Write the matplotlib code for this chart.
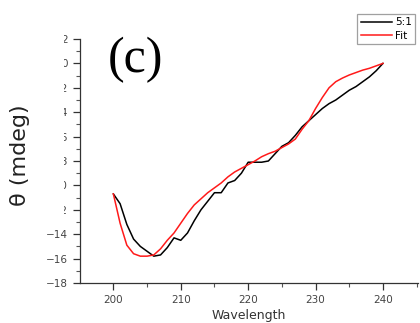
import numpy as np
import matplotlib
matplotlib.use("Agg")
import matplotlib.pyplot as plt
from matplotlib.patches import Rectangle
from matplotlib.ticker import MultipleLocator

wavelength = list(range(200, 241))
ratio_5_1 = [-10.7, -11.5, -13.2, -14.4, -15.0, -15.4, -15.8, -15.7, -15.1, -14.3,
             -14.5, -13.9, -12.9, -12.0, -11.3, -10.6, -10.6, -9.8, -9.6, -9.0,
             -8.1, -8.1, -8.1, -8.0, -7.4, -6.8, -6.5, -5.9, -5.2, -4.7,
             -4.2, -3.7, -3.3, -3.0, -2.6, -2.2, -1.9, -1.5, -1.1, -0.6, 0.0]
fit = [-10.7, -13.1, -14.9, -15.6, -15.8, -15.8, -15.7, -15.2, -14.5, -13.9,
       -13.1, -12.3, -11.6, -11.1, -10.6, -10.2, -9.8, -9.3, -8.9, -8.6,
       -8.3, -8.0, -7.65, -7.4, -7.2, -6.9, -6.6, -6.2, -5.4, -4.7,
       -3.7, -2.8, -2.0, -1.5, -1.2, -0.95, -0.75, -0.55, -0.4, -0.2, 0.0]
yticks = list(range(-18, 3, 2))
xticks = [200, 210, 220, 230, 240]

fig = plt.figure(figsize=(4.2, 3.23), dpi=100)
ax = fig.add_axes([80/420, 1-283/323, (418-80)/420, (283-39)/323])
ax.plot(wavelength, ratio_5_1, color='black', lw=1.1, label='5:1')
ax.plot(wavelength, fit, color='#ff1a1a', lw=1.1, label='Fit')
ax.set_xlim(195.05, 245.2)
ax.set_ylim(-18, 2)
ax.set_xticks(xticks)
ax.set_yticks(yticks)
ax.set_yticklabels([f"\u2212{abs(v)}" if v < 0 else str(v) for v in yticks])
ax.xaxis.set_minor_locator(MultipleLocator(5))
ax.yaxis.set_minor_locator(MultipleLocator(1))
for s in ['top', 'right']:
    ax.spines[s].set_visible(False)
for s in ['left', 'bottom']:
    ax.spines[s].set_color('#333333')
    ax.spines[s].set_linewidth(0.9)
ax.tick_params(which='major', direction='out', length=5, width=0.9, colors='#333333',
               labelsize=7.5, labelcolor='#444444')
ax.tick_params(which='minor', direction='out', length=3, width=0.8, colors='#555555')
ax.set_xlabel('Wavelength', fontsize=9, color='#333333', labelpad=3)
fig.text(20/420, 1-155/323, '\u03b8 (mdeg)', rotation=90, fontsize=16,
         ha='center', va='center', color='#222222')
ax.text(0.083, 0.915, '(c)', transform=ax.transAxes, fontsize=36,
        family='Liberation Serif', ha='left', va='center')
leg = ax.legend(loc='upper right', bbox_to_anchor=(0.991, 1.102), fontsize=7.5,
                frameon=True, fancybox=False, handlelength=3.0, handletextpad=0.3,
                borderpad=0.3, labelspacing=0.35, borderaxespad=0)
leg.get_frame().set_edgecolor('#888888')
leg.get_frame().set_linewidth(0.9)
# white mask that hides the left part of the upper tick labels, as in the reference
fig.patches.append(Rectangle((37/420, 1-222/323), (64-37)/420, (222-28)/323,
                             transform=fig.transFigure, facecolor='white',
                             edgecolor='none', zorder=5))
fig.savefig('out.png', dpi=100)
